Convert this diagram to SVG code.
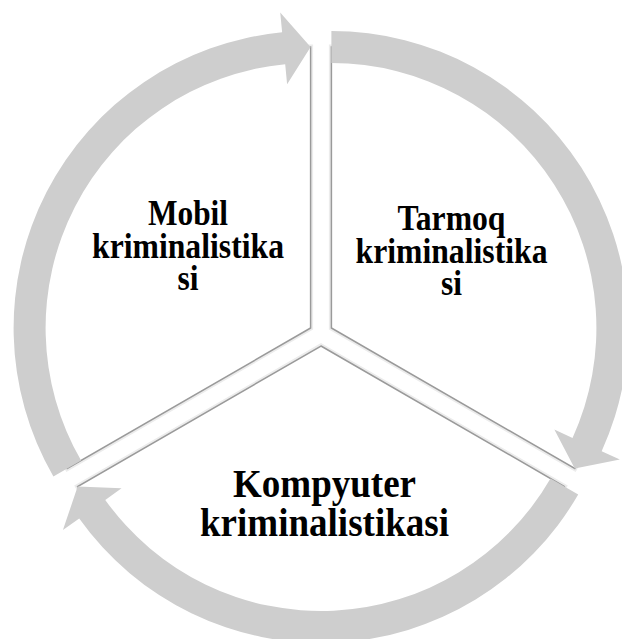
<svg xmlns="http://www.w3.org/2000/svg" xmlns:xlink="http://www.w3.org/1999/xlink" width="622" height="639" viewBox="0 0 622 639">
  <style>
    .seg { fill: #ffffff; stroke: #9a9a9a; stroke-width: 1.5; stroke-linejoin: miter; }
    .segshadow { fill: none; stroke: #ececec; stroke-width: 5; }
    .arr { fill: #cecece; }
    .lbl { font-family: "Liberation Serif", "Times New Roman", serif; font-weight: bold; fill: #000000; text-anchor: middle; }
    .s { font-size: 35px; }
    .l { font-size: 40px; }
  </style>
  <defs>
    <path id="sector" d="M 0 0 L -243.35 140.5 A 281 281 0 0 1 0 -281 Z"/>
    <path id="arrow" d="M -257.21 148.5 A 297 297 0 0 1 -28.47 -295.63 L -30.38 -315.54 L 0 -281 L -23.48 -243.87 L -25.4 -263.78 A 265 265 0 0 0 -229.5 132.5 Z"/>
  </defs>
  <g id="node-mobil">
    <use xlink:href="#sector" class="segshadow" transform="translate(310.6,328)"/>
    <use xlink:href="#sector" class="seg" transform="translate(310.6,328)"/>
  </g>
  <g id="node-tarmoq">
    <use xlink:href="#sector" class="segshadow" transform="translate(331.4,328) rotate(120)"/>
    <use xlink:href="#sector" class="seg" transform="translate(331.4,328) rotate(120)"/>
  </g>
  <g id="node-kompyuter">
    <use xlink:href="#sector" class="segshadow" transform="translate(321,346) rotate(240)"/>
    <use xlink:href="#sector" class="seg" transform="translate(321,346) rotate(240)"/>
  </g>
  <g id="connectors">
    <use xlink:href="#arrow" class="arr" transform="translate(310.6,328)"/>
    <use xlink:href="#arrow" class="arr" transform="translate(331.4,328) rotate(120)"/>
    <use xlink:href="#arrow" class="arr" transform="translate(321,346) rotate(240)"/>
  </g>
  <g id="labels">
    <text class="lbl s" x="188" y="225" textLength="80" lengthAdjust="spacingAndGlyphs">Mobil</text>
    <text class="lbl s" x="188" y="258" textLength="192" lengthAdjust="spacingAndGlyphs">kriminalistika</text>
    <text class="lbl s" x="188" y="290" textLength="21" lengthAdjust="spacingAndGlyphs">si</text>
    <text class="lbl s" x="451.5" y="230" textLength="108" lengthAdjust="spacingAndGlyphs">Tarmoq</text>
    <text class="lbl s" x="451.5" y="263" textLength="192" lengthAdjust="spacingAndGlyphs">kriminalistika</text>
    <text class="lbl s" x="451.5" y="295" textLength="21" lengthAdjust="spacingAndGlyphs">si</text>
    <text class="lbl l" x="324.5" y="497" textLength="183" lengthAdjust="spacingAndGlyphs">Kompyuter</text>
    <text class="lbl l" x="324.5" y="536" textLength="249" lengthAdjust="spacingAndGlyphs">kriminalistikasi</text>
  </g>
</svg>
